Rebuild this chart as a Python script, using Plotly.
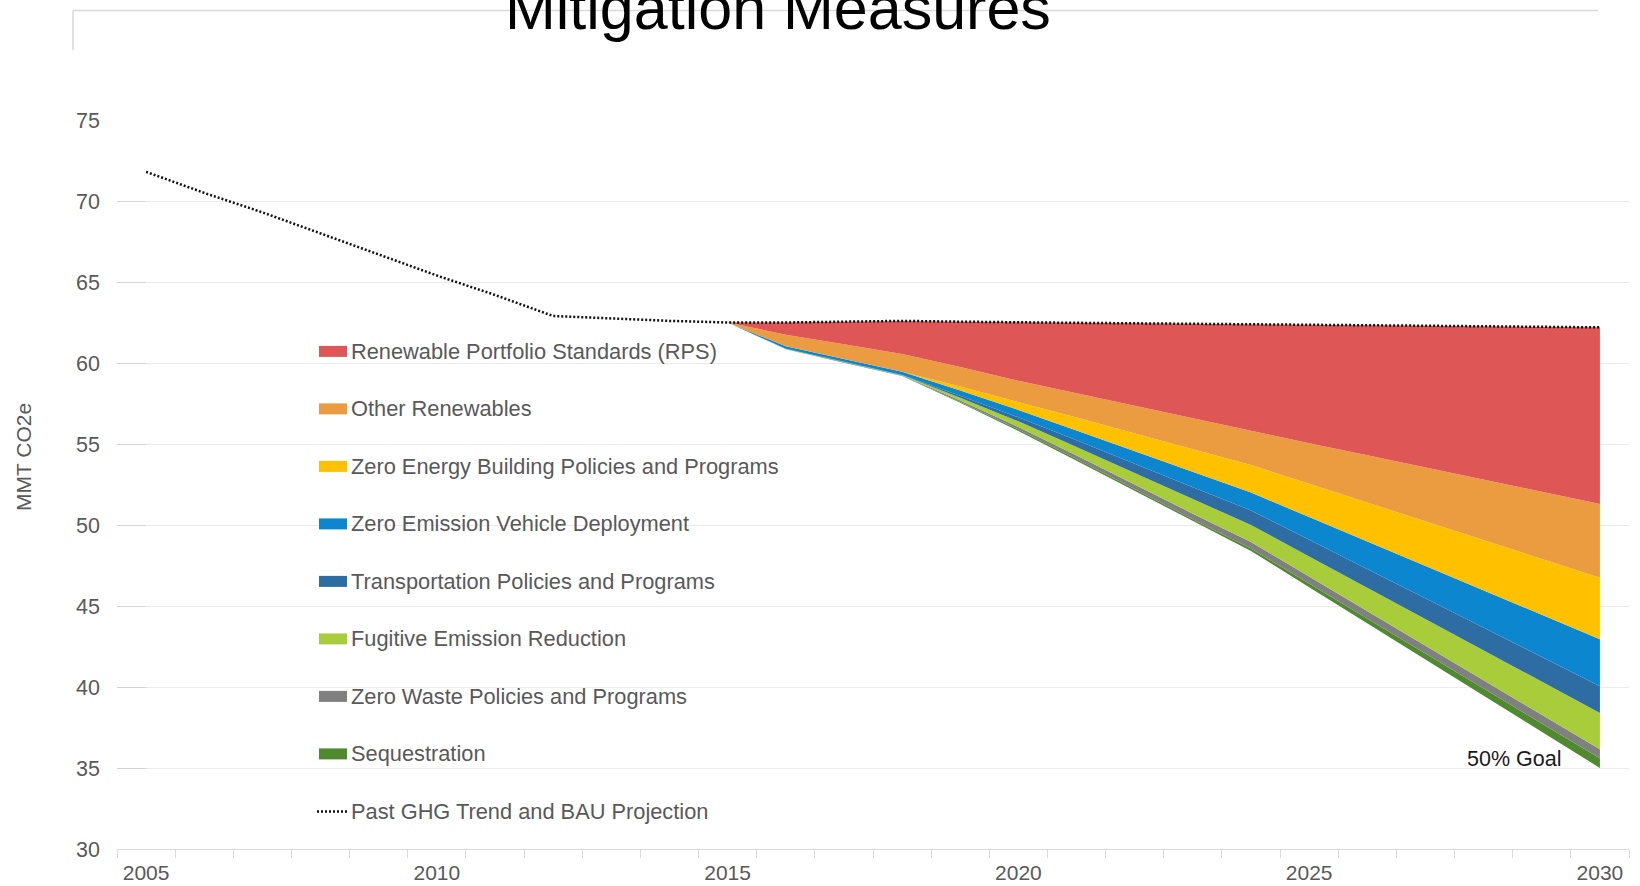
import plotly.graph_objects as go

# ---------------- data ----------------
years = list(range(2005, 2031))
# Past GHG trend (2005-2015) and business-as-usual projection (2015-2030), MMT CO2e
bau = [71.8, 70.5, 69.3, 68.0, 66.7, 65.4, 64.2, 62.9, 62.75, 62.6, 62.5,
       62.5, 62.55, 62.6, 62.55, 62.5, 62.48, 62.45, 62.43, 62.4, 62.37,
       62.33, 62.3, 62.27, 62.23, 62.2]

proj_years = list(range(2015, 2031))

# Reductions by mitigation measure, MMT CO2e (2015-2030)
rps = [0, 0.75, 1.4, 2.05, 2.8, 3.6, 4.35, 5.1, 5.85, 6.6, 7.32, 8.03, 8.75, 9.47, 10.18, 10.9]
other_renewables = [0, 0.72, 0.9, 1.09, 1.2, 1.3, 1.5, 1.7, 1.9, 2.1, 2.51, 2.92, 3.33, 3.73, 4.14, 4.55]
zero_energy_bldg = [0, 0, 0, 0, 0.25, 0.5, 0.8, 1.1, 1.4, 1.7, 2.05, 2.4, 2.75, 3.1, 3.45, 3.8]
zev = [0, 0.15, 0.17, 0.2, 0.32, 0.45, 0.6, 0.78, 0.95, 1.1, 1.4, 1.7, 2.0, 2.3, 2.6, 2.9]
transportation = [0, 0, 0, 0, 0.12, 0.25, 0.42, 0.58, 0.75, 0.9, 1.03, 1.15, 1.28, 1.4, 1.53, 1.65]
fugitive = [0, 0.01, 0.02, 0.02, 0.18, 0.35, 0.52, 0.7, 0.88, 1.05, 1.25, 1.45, 1.65, 1.85, 2.05, 2.25]
zero_waste = [0, 0.01, 0.02, 0.02, 0.08, 0.15, 0.22, 0.28, 0.34, 0.4, 0.43, 0.45, 0.48, 0.5, 0.53, 0.55]
sequestration = [0, 0.01, 0.02, 0.02, 0.06, 0.1, 0.11, 0.12, 0.14, 0.15, 0.23, 0.3, 0.38, 0.45, 0.53, 0.6]

measure_names = [
    "Renewable Portfolio Standards (RPS)",
    "Other Renewables",
    "Zero Energy Building Policies and Programs",
    "Zero Emission Vehicle Deployment",
    "Transportation Policies and Programs",
    "Fugitive Emission Reduction",
    "Zero Waste Policies and Programs",
    "Sequestration",
]
measure_values = [rps, other_renewables, zero_energy_bldg, zev,
                  transportation, fugitive, zero_waste, sequestration]
bau_name = "Past GHG Trend and BAU Projection"

x_tick_years = [2005, 2010, 2015, 2020, 2025, 2030]

# ---------------- styling ----------------
colors = ["#DF5656", "#EB9C40", "#FFC000", "#0C87CF",
          "#2E6DA4", "#A9CD3A", "#808080", "#4F8A2F"]
font_family = "Liberation Sans, Arial, sans-serif"
grey_text = "#595959"

W, H = 1640, 886
M_L, M_R, M_T, M_B = 117, 11, 120, 37
PW, PH = W - M_L - M_R, H - M_T - M_B


def px_x(p):
    return (p - M_L) / PW


def px_y(p):
    return (H - M_B - p) / PH


# remaining emissions after all measures (base of the stack)
bau_proj = bau[years.index(2015):]
net = [round(b - sum(v[i] for v in measure_values), 3) for i, b in enumerate(bau_proj)]

fig = go.Figure()

# invisible base of the stack
fig.add_trace(go.Scatter(
    x=proj_years, y=net, stackgroup="cuts", mode="lines",
    line=dict(width=0), fillcolor="rgba(0,0,0,0)",
    showlegend=False, hoverinfo="skip"))

# measures stacked from the bottom up
for name, vals, col in reversed(list(zip(measure_names, measure_values, colors))):
    fig.add_trace(go.Scatter(
        x=proj_years, y=vals, stackgroup="cuts", mode="lines", name=name,
        line=dict(width=0, color=col), fillcolor=col, showlegend=False))

# trend / BAU line
fig.add_trace(go.Scatter(
    x=years, y=bau, mode="lines", name=bau_name,
    line=dict(color="#111111", width=2.5, dash="2px,2px"), showlegend=False))

shapes = []
annotations = []

# hand-built legend
row0, step = 351.4, 57.5
legend_font = dict(family=font_family, size=21.8, color=grey_text)
for i, (name, col) in enumerate(zip(measure_names, colors)):
    cy = row0 + i * step
    shapes.append(dict(type="rect", xref="paper", yref="paper",
                       x0=px_x(319), x1=px_x(347), y0=px_y(cy + 5.5), y1=px_y(cy - 5.5),
                       fillcolor=col, line=dict(width=0), layer="above"))
    annotations.append(dict(text=name, xref="paper", yref="paper",
                            x=px_x(349), y=px_y(cy), xanchor="left", yanchor="middle",
                            showarrow=False, font=legend_font))
cy = row0 + len(measure_names) * step
shapes.append(dict(type="line", xref="paper", yref="paper",
                   x0=px_x(317), x1=px_x(347), y0=px_y(cy), y1=px_y(cy),
                   line=dict(color="#111111", width=2.5, dash="2px,2px"), layer="above"))
annotations.append(dict(text=bau_name, xref="paper", yref="paper",
                        x=px_x(349), y=px_y(cy), xanchor="left", yanchor="middle",
                        showarrow=False, font=legend_font))

# slide frame at the top
shapes.append(dict(type="line", xref="paper", yref="paper",
                   x0=px_x(73), x1=px_x(1598), y0=px_y(10.5), y1=px_y(10.5),
                   line=dict(color="#d9d9d9", width=1.5), layer="below"))
shapes.append(dict(type="line", xref="paper", yref="paper",
                   x0=px_x(73), x1=px_x(73), y0=px_y(10.5), y1=px_y(50),
                   line=dict(color="#d9d9d9", width=1.5), layer="below"))

# slide title
annotations.append(dict(text="Mitigation Measures", xref="paper", yref="paper",
                        x=px_x(778), y=px_y(44), xanchor="center", yanchor="bottom",
                        showarrow=False, font=dict(family=font_family, size=61, color="#000000")))

# y-axis title
annotations.append(dict(text="MMT CO2e", xref="paper", yref="paper",
                        x=px_x(23), y=px_y(457), xanchor="center", yanchor="middle",
                        textangle=-90, showarrow=False,
                        font=dict(family=font_family, size=21, color=grey_text)))

# goal label at the end of the remaining-emissions edge
annotations.append(dict(text="50% Goal", xref="x", yref="y",
                        x=proj_years[-1], y=net[-1], xanchor="right", yanchor="middle",
                        xshift=-37, yshift=9, showarrow=False,
                        font=dict(family=font_family, size=21.5, color="#1a1a1a")))

fig.update_layout(
    width=W, height=H,
    margin=dict(l=M_L, r=M_R, t=M_T, b=M_B, autoexpand=False),
    paper_bgcolor="white", plot_bgcolor="white",
    showlegend=False,
    shapes=shapes, annotations=annotations,
    xaxis=dict(range=[2004.5, 2030.5], tickmode="array", tickvals=x_tick_years,
               ticks="", showgrid=False, zeroline=False,
               showline=True, linecolor="#d9d9d9", linewidth=1,
               ticklabelstandoff=5,
               tickfont=dict(family=font_family, size=21, color=grey_text),
               minor=dict(tick0=2004.5, dtick=1, ticks="outside", ticklen=8,
                          tickcolor="#d9d9d9", tickwidth=1, showgrid=False)),
    yaxis=dict(range=[30, 75], tick0=30, dtick=5, showgrid=True, gridcolor="#ebebeb",
               gridwidth=1, zeroline=False, showline=False,
               ticks="inside", ticklen=29, tickcolor="#d4d4d4", tickwidth=1,
               ticklabelstandoff=16,
               tickfont=dict(family=font_family, size=21.5, color=grey_text)),
)

fig.write_html("out.html")
